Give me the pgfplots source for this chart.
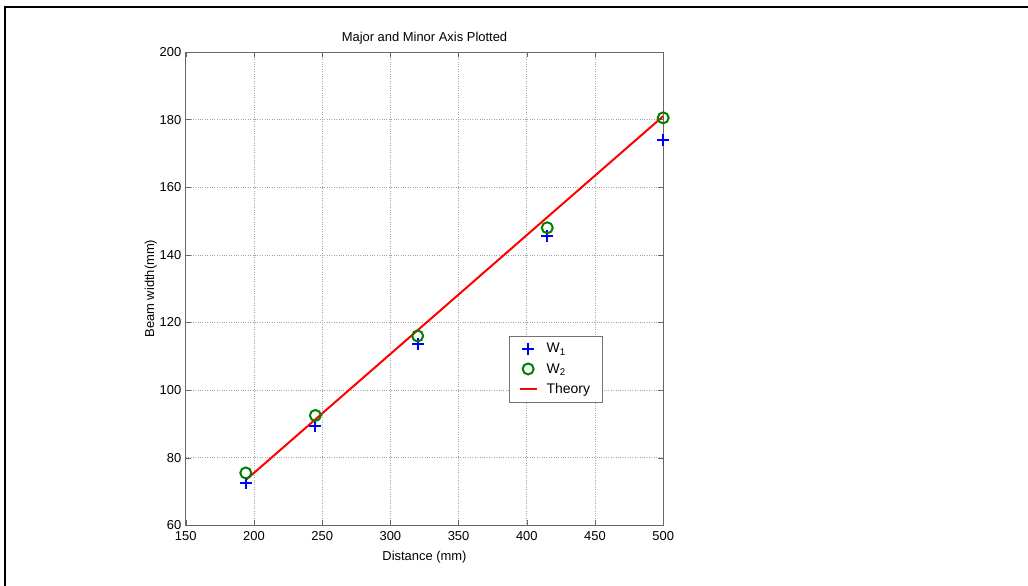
\documentclass[border=0pt]{standalone}
\usepackage{pgfplots}
\pgfplotsset{compat=1.18}
\usepackage{fontspec}
\setmainfont{Liberation Sans}
\begin{document}
\begin{tikzpicture}[x=1bp,y=1bp]
\path[fill=white] (0,0) rectangle (1028,585);
\draw[line width=2.5bp,line cap=rect] (5,0) -- (5,578) -- (1028,578);
\begin{axis}[
  at={(186bp,59bp)}, anchor=south west,
  scale only axis, width=478bp, height=474bp,
  xmin=150, xmax=500, ymin=60, ymax=200,
  xtick={150,200,...,500}, ytick={60,80,...,200},
  tick align=inside, tick pos=both,
  major tick length=5bp,
  axis line style={black!60, line width=0.8bp},
  every tick/.style={black!60},
  grid=major,
  major grid style={black!35, dotted, line width=0.6bp},
  tick label style={font=\fontsize{13}{15}\selectfont},
  xticklabel style={yshift=-3bp},
  yticklabel style={xshift=-1bp},
  /pgf/number format/assume math mode=true,
  title={Major and Minor Axis Plotted},
  title style={font=\fontsize{13}{15}\selectfont, yshift=-2bp},
  xlabel={Distance (mm)},
  ylabel={Beam width(mm)},
  label style={font=\fontsize{13}{15}\selectfont},
  xlabel style={yshift=-3bp},
  ylabel style={yshift=-4bp},
  legend style={at={(0.678,0.26)}, anchor=south west, draw=black!55, fill=white,
    font=\fontsize{14}{16}\selectfont, row sep=5bp, inner xsep=9bp, inner ysep=5bp,
    column sep=6bp, nodes={inner xsep=3bp, inner ysep=2bp}},
  legend cell align=left,
]
\addplot[only marks, mark=+, mark size=6bp, blue, line width=2bp] coordinates {
 (194,72.5) (245,89.5) (320,113.5) (415,145.5) (500,174)};
\addlegendentry{W\textsubscript{1}}
\addplot[only marks, mark=o, mark size=5.5bp, green!50!black, line width=2bp] coordinates {
 (194,75.5) (245,92.5) (320,116) (415,148) (500,180.5)};
\addlegendentry{W\textsubscript{2}}
\addplot[red, line width=2bp] coordinates {(194,73.4) (500,181)};
\addlegendentry{Theory}
\end{axis}
\end{tikzpicture}
\end{document}
